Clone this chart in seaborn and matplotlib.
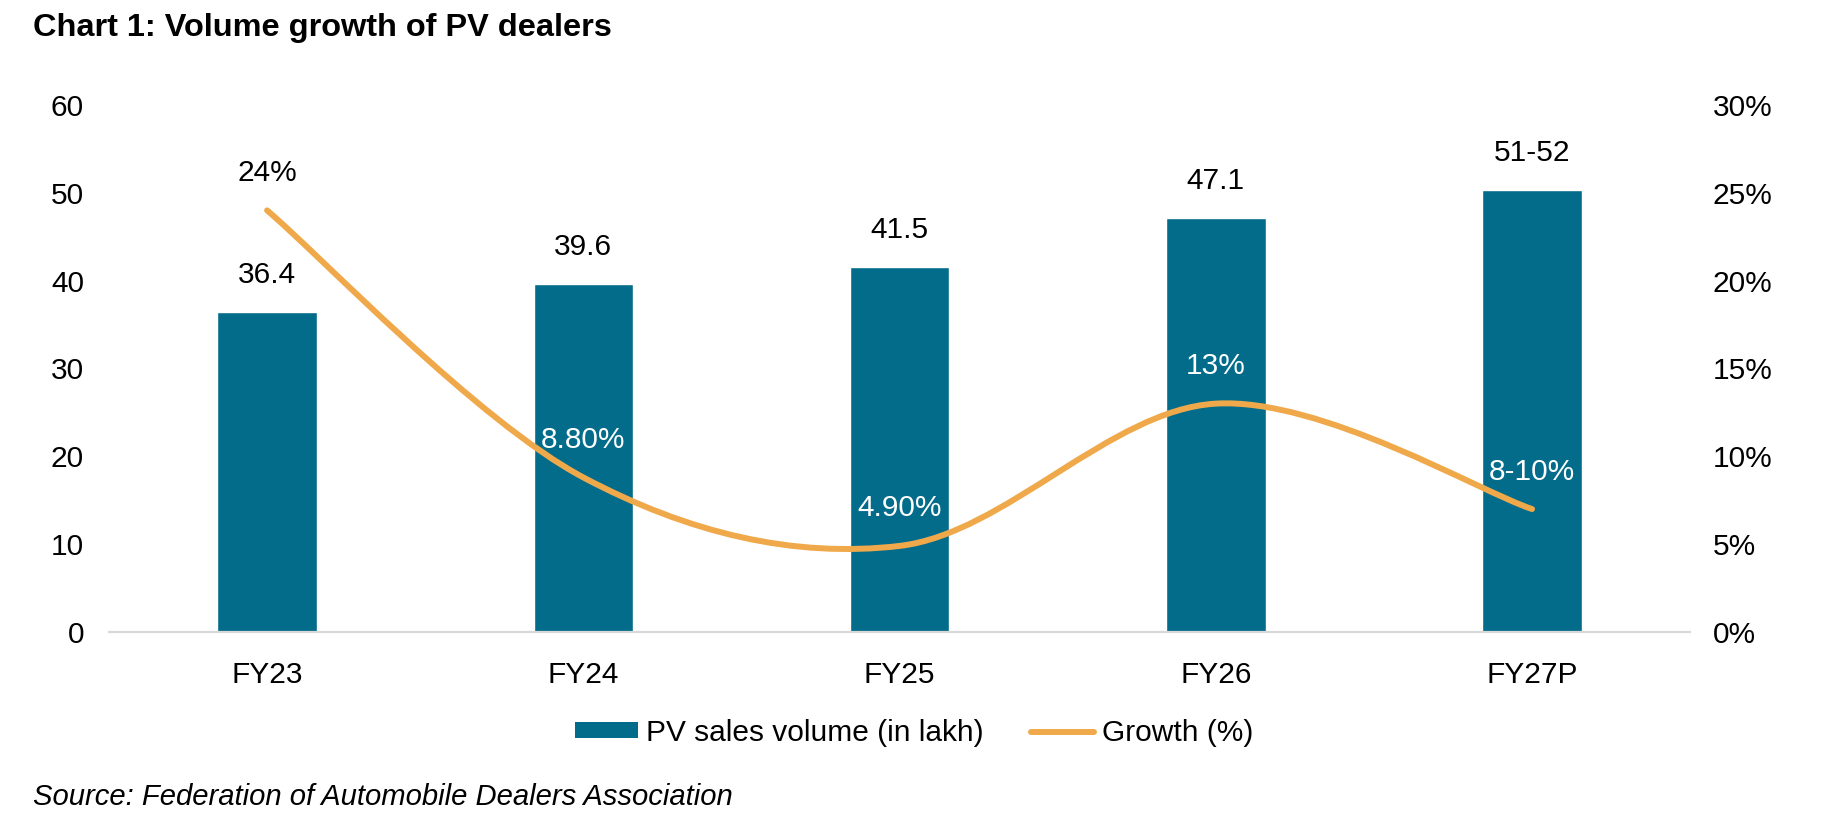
import numpy as np
import pandas as pd
import seaborn as sns
import matplotlib.pyplot as plt
from matplotlib.path import Path
from matplotlib.patches import PathPatch, Patch
from matplotlib.lines import Line2D
from matplotlib.ticker import FuncFormatter

# chart data
years = ['FY23', 'FY24', 'FY25', 'FY26', 'FY27P']
volume = [36.4, 39.6, 41.5, 47.1, 50.3]
volume_labels = ['36.4', '39.6', '41.5', '47.1', '51-52']
growth = [24.0, 8.8, 4.9, 13.0, 7.0]
growth_labels = ['24%', '8.80%', '4.90%', '13%', '8-10%']
growth_label_colors = ['black', 'white', 'white', 'white', 'white']

BAR_COLOR = '#036c8a'
LINE_COLOR = '#f0a94a'
FS = 21.5


def smooth_path(xs, ys):
    """Excel-style smoothed line: Catmull-Rom segments as cubic Beziers."""
    pts = np.column_stack([xs, ys]).astype(float)
    ext = np.vstack([pts[0], pts, pts[-1]])
    verts = [pts[0]]
    codes = [Path.MOVETO]
    for i in range(len(pts) - 1):
        p0, p1, p2, p3 = ext[i], ext[i + 1], ext[i + 2], ext[i + 3]
        verts += [p1 + (p2 - p0) / 6, p2 - (p3 - p1) / 6, p2]
        codes += [Path.CURVE4] * 3
    return Path(verts, codes)


def main():
    sns.set_theme(style='white')
    plt.rcParams['font.family'] = ['Liberation Sans', 'DejaVu Sans']
    plt.rcParams['text.color'] = 'black'
    plt.rcParams['xtick.color'] = 'black'
    plt.rcParams['ytick.color'] = 'black'

    data = pd.DataFrame({'Year': years, 'Volume': volume, 'Growth': growth})

    fig = plt.figure(figsize=(18.28, 8.24), dpi=100)
    ax = fig.add_axes([0.0596, 0.2330, 0.8650, 0.6396])
    sns.barplot(data=data, x='Year', y='Volume', color=BAR_COLOR,
                width=0.315, saturation=1, ax=ax)
    ax.set_xlim(-0.5, 4.5)
    ax.set_ylim(0, 60)
    ax.set_yticks(range(0, 61, 10))
    ax.set_xlabel('')
    ax.set_ylabel('')
    for side in ['top', 'right', 'left']:
        ax.spines[side].set_visible(False)
    ax.spines['bottom'].set_color('#d9d9d9')
    ax.spines['bottom'].set_linewidth(1.6)
    ax.tick_params(axis='y', length=0, pad=18, labelsize=FS)
    ax.tick_params(axis='x', length=0, pad=21, labelsize=FS)

    # bar value labels
    for i, (v, lab) in enumerate(zip(volume, volume_labels)):
        ax.annotate(lab, (i, v), xytext=(0, 27), textcoords='offset points',
                    ha='center', va='center', fontsize=FS, color='black')

    # growth line on the right axis
    ax2 = ax.twinx()
    ax2.set_ylim(0, 30)
    ax2.set_yticks(range(0, 31, 5))
    ax2.yaxis.set_major_formatter(FuncFormatter(lambda v, p: f'{v:.0f}%'))
    ax2.tick_params(axis='y', length=0, pad=16, labelsize=FS)
    for side in ['top', 'right', 'left', 'bottom']:
        ax2.spines[side].set_visible(False)
    ax2.grid(False)
    ax.grid(False)
    xs = np.arange(len(years))
    path = smooth_path(xs, growth)
    ax2.add_patch(PathPatch(path, facecolor='none', edgecolor=LINE_COLOR,
                            linewidth=4.3, capstyle='round', zorder=3))
    for i, (g, lab, c) in enumerate(zip(growth, growth_labels,
                                         growth_label_colors)):
        ax2.annotate(lab, (i, g), xytext=(0, 27), textcoords='offset points',
                     ha='center', va='center', fontsize=FS, color=c)

    handles = [Patch(facecolor=BAR_COLOR, edgecolor='none'),
               Line2D([0], [0], color=LINE_COLOR, linewidth=4.3)]
    fig.legend(handles, ['PV sales volume (in lakh)', 'Growth (%)'],
               loc='center', bbox_to_anchor=(0.5, 1 - 733 / 824), ncol=2,
               frameon=False, fontsize=FS, handlelength=2.12,
               handleheight=0.45, handletextpad=0.25, columnspacing=1.6)

    fig.text(33 / 1828, 1 - 28 / 824, 'Chart 1: Volume growth of PV dealers',
             fontsize=23.4, fontweight='bold', va='center', ha='left')
    fig.text(33 / 1828, 1 - 797 / 824,
             'Source: Federation of Automobile Dealers Association',
             fontsize=21.1, fontstyle='italic', va='center', ha='left')

    fig.savefig('out.png', dpi=100)


if __name__ == '__main__':
    main()
